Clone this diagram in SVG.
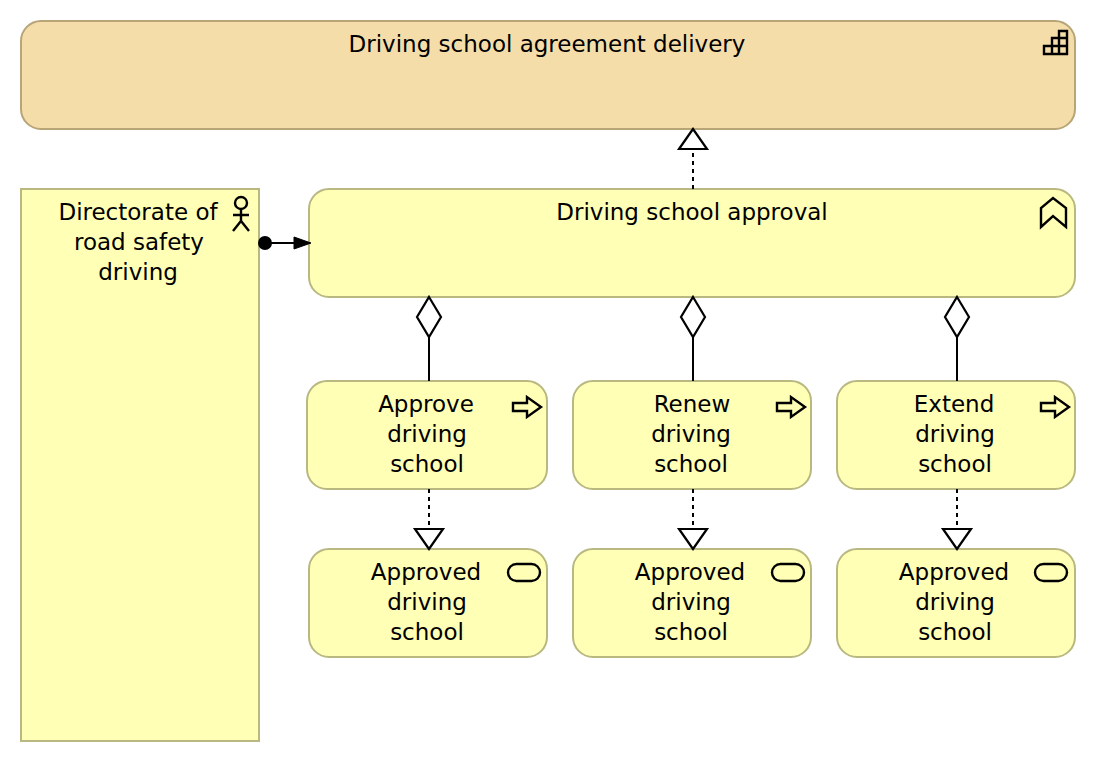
<svg xmlns="http://www.w3.org/2000/svg" width="1096" height="762" viewBox="0 0 1096 762">
<style>
.n{fill:#ffffb5;stroke:#b8b880;stroke-width:2}
.o{fill:#f5dda9;stroke:#b8a577;stroke-width:2}
text{font-family:"DejaVu Sans","Liberation Sans",Arial,sans-serif;font-size:23px;fill:#000;text-anchor:middle}
.i{fill:none;stroke:#000;stroke-width:2.4}
.h{fill:#fff;stroke:#000;stroke-width:2.2}
.c{fill:none;stroke:#000;stroke-width:2}
.d{stroke-dasharray:4 4}
</style>
<defs>
<path id="arrow" d="M513 403H527V397L541 407L527 417V411H513Z" class="i"/>
<g id="evt"><rect x="508" y="564" width="32" height="17" rx="8.5" class="i"/></g>
</defs>
<rect width="1096" height="762" fill="#fff"/>
<g id="outcome"><rect class="o" x="21" y="21" width="1054" height="108" rx="20"/><text x="547" y="52">Driving school agreement delivery</text>
<path class="i" d="M1044 54V46H1052V38H1059V31H1067V54ZM1044 46H1067M1052 54V38H1067M1059 54V31"/></g>
<g id="actor"><rect class="n" x="21" y="189" width="238" height="552"/><text x="138" y="220">Directorate of</text><text x="139" y="250">road safety</text><text x="138" y="280">driving</text>
<circle class="i" cx="241" cy="203" r="6"/><path class="i" d="M241 209V221M233 215H249M233 231L241 221L249 231"/></g>
<g id="function"><rect class="n" x="309" y="189" width="766" height="108" rx="20"/><text x="692" y="220">Driving school approval</text>
<path class="i" d="M1041 227V208L1053 198L1066 208V227L1053 216Z"/></g>
<g id="process1"><rect class="n" x="307" y="381" width="240" height="108" rx="20"/><text x="426" y="412">Approve</text><text x="427" y="442">driving</text><text x="427" y="472">school</text><use href="#arrow"/></g>
<g id="process2"><rect class="n" x="573" y="381" width="238" height="108" rx="20"/><text x="692" y="412">Renew</text><text x="691" y="442">driving</text><text x="691" y="472">school</text><use href="#arrow" x="264"/></g>
<g id="process3"><rect class="n" x="837" y="381" width="238" height="108" rx="20"/><text x="954" y="412">Extend</text><text x="955" y="442">driving</text><text x="955" y="472">school</text><use href="#arrow" x="528"/></g>
<g id="event1"><rect class="n" x="309" y="549" width="238" height="108" rx="20"/><text x="426" y="580">Approved</text><text x="427" y="610">driving</text><text x="427" y="640">school</text><use href="#evt"/></g>
<g id="event2"><rect class="n" x="573" y="549" width="238" height="108" rx="20"/><text x="690" y="580">Approved</text><text x="691" y="610">driving</text><text x="691" y="640">school</text><use href="#evt" x="264"/></g>
<g id="event3"><rect class="n" x="837" y="549" width="238" height="108" rx="20"/><text x="954" y="580">Approved</text><text x="955" y="610">driving</text><text x="955" y="640">school</text><use href="#evt" x="527"/></g>
<g id="connectors">
<path class="c d" d="M693 189V150"/><path class="h" d="M693 129L679 149H707Z"/>
<circle cx="265" cy="243" r="7" fill="#000"/><path class="c" d="M265 243H296"/><path d="M294 237L311 243L294 249Z" fill="#000" stroke="#000"/>
<path class="c" d="M429 337V381"/><path class="h" d="M429 297L441 317L429 337L417 317Z"/>
<path class="c" d="M693 337V381"/><path class="h" d="M693 297L705 317L693 337L681 317Z"/>
<path class="c" d="M957 337V381"/><path class="h" d="M957 297L969 317L957 337L945 317Z"/>
<path class="c d" d="M429 489V528"/><path class="h" d="M429 549L415 529H443Z"/>
<path class="c d" d="M693 489V528"/><path class="h" d="M693 549L679 529H707Z"/>
<path class="c d" d="M957 489V528"/><path class="h" d="M957 549L943 529H971Z"/>
</g>
</svg>
